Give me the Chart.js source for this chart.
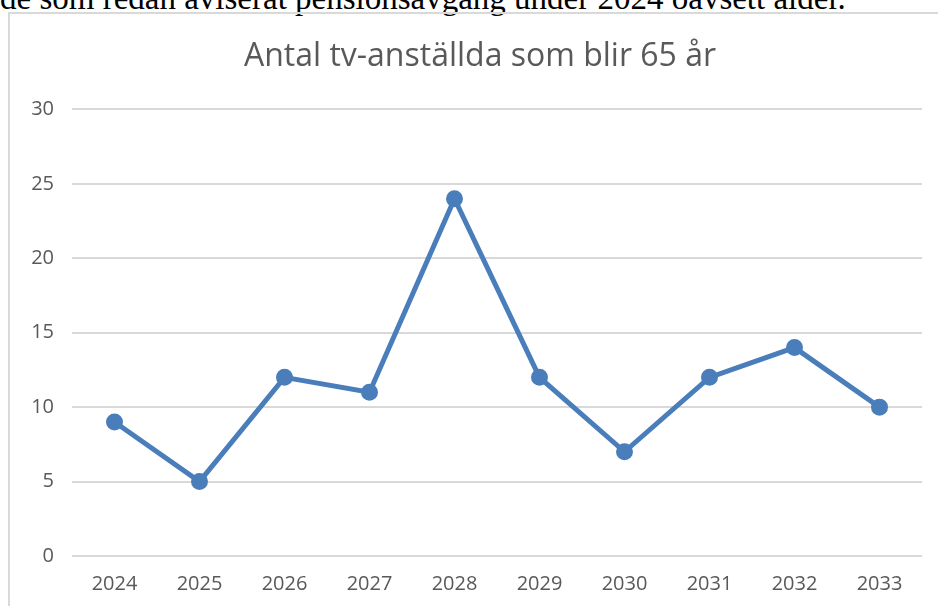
<!DOCTYPE html>
<html>
<head>
<meta charset="utf-8">
<script src="https://cdn.jsdelivr.net/npm/chart.js@4"></script>
<style>
  body { margin: 0; width: 938px; height: 606px; overflow: hidden; background: #fff; position: relative; }
  #text { position: absolute; left: 0; top: -20px; font-family: "Liberation Serif", serif; font-size: 33px; color: #000; white-space: nowrap; }
  #box { position: absolute; left: 8px; top: 12px; width: 1000px; height: 700px; border-left: 2px solid #d9d9d9; border-top: 2px solid #d9d9d9; }
  #wrap { position: absolute; left: 10px; top: 0; width: 940px; height: 612px; }
</style>
</head>
<body>
<div id="text">de som redan aviserat pensionsavgång under 2024 oavsett ålder.</div>
<div id="box"></div>
<div id="wrap"><canvas id="plot1"></canvas></div>
<script>
// Data
let ar = ['2024', '2025', '2026', '2027', '2028', '2029', '2030', '2031', '2032', '2033'];
let antal = [9, 5, 12, 11, 24, 12, 7, 12, 14, 10];
let titel = 'Antal tv-anställda som blir 65 år';

let plotRef = document.getElementById('plot1');

// y-axeln är smal så att titeln hamnar mitt i rutan; bredda etikettytan efter layout
let breddaEtiketter = {
  id: 'breddaEtiketter',
  afterLayout: (chart) => { chart.scales.y.left -= 20 }
};

let config = {
  type: 'line',
  data: {
    labels: ar,
    datasets: [
      {
        label: 'Antal',
        data: antal,
        borderColor: '#4a7ebb',
        backgroundColor: '#4a7ebb',
        borderWidth: 5,
        pointRadius: 6,
        pointHoverRadius: 6,
        tension: 0
      }
    ]
  },
  options: {
    responsive: true,
    maintainAspectRatio: false,
    animation: false,
    layout: { padding: { left: 28, right: 28, top: 38, bottom: 8 } },
    plugins: {
      legend: { display: false },
      tooltip: { enabled: false },
      title: {
        display: true,
        text: titel,
        color: '#595959',
        font: { family: 'Open Sans', size: 32, weight: 'normal' },
        padding: { top: 0, bottom: 33 }
      }
    },
    scales: {
      x: {
        offset: true,
        grid: { display: false },
        border: { display: false },
        ticks: { color: '#595959', font: { family: 'Open Sans', size: 20 }, padding: 8 }
      },
      y: {
        min: 0,
        max: 30,
        afterFit: (axis) => { axis.width = 34 },
        ticks: { stepSize: 5, color: '#595959', font: { family: 'Open Sans', size: 20 }, padding: 18 },
        grid: { color: '#d9d9d9', lineWidth: 2, drawTicks: false },
        border: { display: false }
      }
    }
  },
  plugins: [breddaEtiketter]
};

new Chart(plotRef, config);
</script>
</body>
</html>
